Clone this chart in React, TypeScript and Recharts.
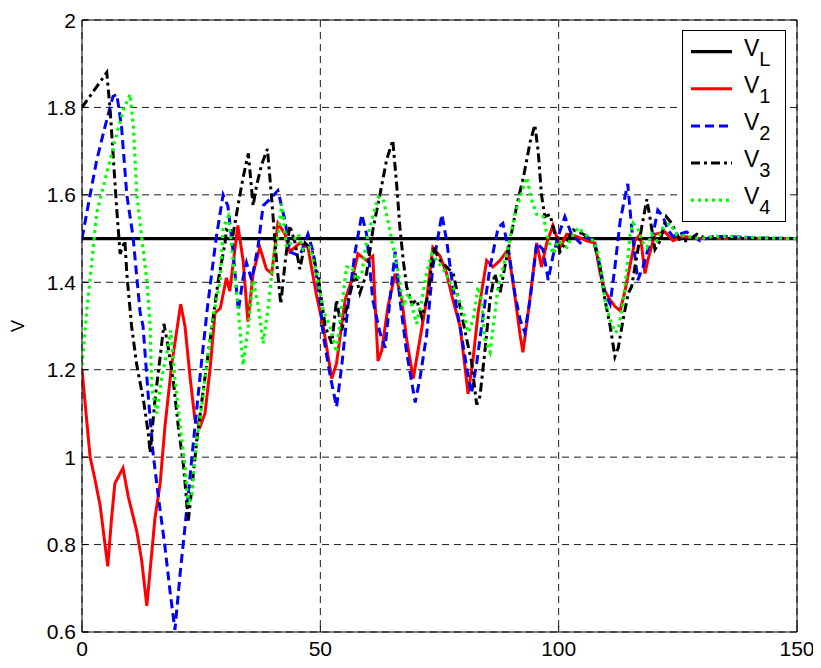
import React from 'react';
import { LineChart, Line, XAxis, YAxis, CartesianGrid } from 'recharts';

const xTicks = [0, 50, 100, 150];
const yTicks = [0.6, 0.8, 1, 1.2, 1.4, 1.6, 1.8, 2];

const vLX = [0, 150];
const vLY = [1.5, 1.5];

const v1X = [0, 1.7, 2.7, 3.8, 5.4, 6.2, 6.9, 8.6, 9.7, 11.5, 12.5, 13.6, 15.3, 16.4, 17.4, 18.8, 20.7, 21.6, 22.7, 23.7, 24.8, 25.8, 26.9, 27.9, 29, 30.3, 31, 32.7, 33.8, 34.8, 35.9, 37.3, 38.7, 39.8, 41.1, 42.6, 43.6, 45.7, 47.4, 49.2, 50.6, 52.4, 53.4, 55.2, 56.6, 57.9, 59.7, 61, 62.1, 62.9, 64.2, 65.7, 67.1, 68.1, 69.5, 70.9, 72.3, 73.6, 75.1, 76.5, 77.8, 79.3, 80.3, 81, 82, 83.1, 84.9, 86.2, 87.7, 89.4, 90.8, 91.9, 92.5, 93.6, 95.4, 96.4, 97.5, 98.8, 100.3, 101.7, 103.8, 105.9, 107.6, 108.7, 109.7, 110.8, 111.8, 112.9, 113.9, 115, 116, 117.1, 118.1, 118.7, 120.2, 122.3, 124, 126.1, 129, 150];
const v1Y = [1.2, 1.0, 0.95, 0.89, 0.75, 0.86, 0.94, 0.975, 0.91, 0.83, 0.765, 0.66, 0.86, 0.94, 1.07, 1.21, 1.35, 1.3, 1.18, 1.085, 1.07, 1.1, 1.205, 1.33, 1.34, 1.41, 1.38, 1.53, 1.45, 1.31, 1.42, 1.48, 1.43, 1.42, 1.535, 1.51, 1.47, 1.49, 1.48, 1.37, 1.3, 1.18, 1.215, 1.36, 1.405, 1.465, 1.45, 1.46, 1.22, 1.245, 1.345, 1.42, 1.36, 1.27, 1.18, 1.27, 1.36, 1.48, 1.46, 1.42, 1.36, 1.3, 1.21, 1.145, 1.22, 1.33, 1.45, 1.435, 1.45, 1.475, 1.37, 1.28, 1.24, 1.33, 1.49, 1.435, 1.49, 1.53, 1.48, 1.51, 1.505, 1.495, 1.49, 1.42, 1.38, 1.36, 1.345, 1.335, 1.38, 1.44, 1.495, 1.51, 1.42, 1.45, 1.51, 1.515, 1.495, 1.505, 1.5, 1.5];

const v2X = [0, 1.7, 3.1, 4.8, 6.5, 7.3, 8.3, 9.4, 10.7, 12.2, 12.8, 13.9, 14.9, 15.9, 17.4, 18.5, 19.5, 20.6, 21.6, 22.7, 23.7, 25.1, 26.4, 27.9, 28.2, 29.6, 30.6, 31.7, 32.8, 33.8, 34.5, 35.6, 36.9, 38, 39.4, 41.1, 42.6, 43.6, 45.7, 47.4, 48.5, 49.9, 50.6, 52, 53.4, 54.5, 55.8, 57.3, 58.7, 59.7, 61, 62.5, 63.6, 64.6, 65.7, 66.7, 68.1, 69.9, 70.9, 72.3, 73.6, 75.5, 76.5, 77.8, 79.6, 80.7, 81.7, 82.8, 84.1, 85.6, 87.3, 88.3, 89.4, 90.8, 91.9, 92.9, 94, 95.4, 96.7, 97.8, 98.8, 99.9, 101.3, 102.7, 104.5, 105.9, 107.6, 108.7, 109.7, 110.8, 111.8, 112.9, 113.9, 114.5, 115.3, 116, 116.6, 117.7, 118.7, 119.8, 120.8, 121.9, 122.9, 124, 126.8, 129.7, 132.4, 135.2, 140, 150];
const v2Y = [1.5, 1.6, 1.68, 1.755, 1.825, 1.83, 1.755, 1.6, 1.505, 1.33, 1.3, 1.14, 1.01, 0.92, 0.795, 0.69, 0.605, 0.735, 0.84, 0.96, 1.07, 1.22, 1.35, 1.48, 1.505, 1.6, 1.575, 1.47, 1.335, 1.41, 1.445, 1.405, 1.48, 1.575, 1.59, 1.61, 1.54, 1.47, 1.46, 1.51, 1.47, 1.36, 1.28, 1.19, 1.115, 1.21, 1.345, 1.47, 1.555, 1.51, 1.36, 1.285, 1.25, 1.36, 1.47, 1.36, 1.24, 1.125, 1.18, 1.28, 1.435, 1.555, 1.495, 1.39, 1.28, 1.205, 1.145, 1.215, 1.32, 1.435, 1.525, 1.535, 1.48, 1.375, 1.315, 1.285, 1.36, 1.49, 1.475, 1.405, 1.46, 1.505, 1.55, 1.51, 1.49, 1.505, 1.49, 1.435, 1.375, 1.35, 1.435, 1.54, 1.595, 1.625, 1.525, 1.46, 1.405, 1.435, 1.475, 1.51, 1.565, 1.55, 1.52, 1.505, 1.515, 1.495, 1.505, 1.505, 1.502, 1.5];

const v3X = [0, 5.2, 5.9, 6.6, 7.3, 8, 9, 9.4, 10.4, 11.5, 12.9, 13.9, 14.3, 15.3, 16.4, 17.2, 18.1, 19.2, 20.2, 21.3, 22.3, 23, 24.1, 25.4, 26.9, 28.6, 30, 30.3, 31.7, 32.8, 33.8, 34.9, 35.9, 36.6, 37.7, 38.9, 39.8, 40.8, 41.7, 42.6, 43.6, 44.7, 45.7, 46.8, 48.2, 49.6, 51, 52.4, 53.4, 54.5, 55.9, 57.3, 58.3, 59.7, 61.1, 62.5, 63.9, 65.2, 66, 66.7, 67.4, 68.1, 69.2, 70.2, 71.3, 72.7, 73.7, 75.1, 76.5, 77.9, 79.3, 80.7, 81.7, 82.8, 83.5, 84.5, 85.6, 86.6, 87.7, 88.7, 89.8, 91.2, 92.6, 94, 95, 95.7, 96.4, 97.1, 98.2, 99.2, 100.3, 101.7, 103.1, 105.2, 107.3, 108.7, 109.7, 110.8, 111.8, 112.5, 113.6, 114.6, 115.3, 116.4, 117.4, 118.5, 119.2, 120.2, 121.3, 122.6, 123.7, 125.5, 127.2, 129, 131, 150];
const v3Y = [1.8, 1.88, 1.795, 1.68, 1.565, 1.465, 1.495, 1.42, 1.3, 1.21, 1.13, 1.055, 1.01, 1.13, 1.23, 1.305, 1.25, 1.17, 1.07, 0.98, 0.855, 0.925, 1.04, 1.15, 1.27, 1.405, 1.49, 1.52, 1.51, 1.58, 1.64, 1.695, 1.575, 1.62, 1.67, 1.705, 1.59, 1.45, 1.35, 1.445, 1.53, 1.49, 1.43, 1.49, 1.475, 1.41, 1.3, 1.26, 1.36, 1.29, 1.36, 1.42, 1.375, 1.42, 1.525, 1.6, 1.68, 1.725, 1.625, 1.525, 1.45, 1.39, 1.35, 1.36, 1.32, 1.375, 1.48, 1.45, 1.435, 1.42, 1.345, 1.27, 1.22, 1.12, 1.14, 1.24, 1.36, 1.42, 1.375, 1.435, 1.495, 1.575, 1.64, 1.72, 1.76, 1.7, 1.6, 1.55, 1.555, 1.51, 1.47, 1.495, 1.52, 1.51, 1.495, 1.435, 1.36, 1.3, 1.23, 1.25, 1.32, 1.375, 1.39, 1.46, 1.525, 1.59, 1.545, 1.475, 1.495, 1.55, 1.535, 1.495, 1.495, 1.51, 1.5, 1.5];

const v4X = [0, 1, 2, 3.1, 4.5, 5.9, 7.3, 8.7, 10.1, 10.8, 11.5, 12.5, 13.6, 14.3, 14.6, 15.7, 16.7, 17.8, 18.6, 19.5, 20.6, 21.6, 22.3, 23, 24.1, 25.1, 26.2, 27.5, 29, 29.6, 30.7, 31.7, 32.8, 33.8, 34.9, 35.9, 37, 38, 39.1, 40.1, 41.2, 41.9, 42.9, 44.3, 45.4, 46.4, 47.8, 49.2, 50.6, 52, 53.4, 54.5, 55.5, 56.6, 57.6, 58.7, 59.7, 61.1, 62.2, 63.2, 64.3, 65.3, 66.4, 67.4, 68.5, 69.5, 70.2, 71.3, 72.3, 73.4, 74.4, 75.8, 77.2, 78.6, 80, 81, 82.1, 83.1, 83.8, 84.5, 85.6, 86.3, 87.3, 88.4, 89.4, 90.8, 92.2, 93.3, 94.3, 95.4, 96.8, 97.8, 98.9, 99.9, 101.7, 103.1, 104.1, 105.5, 107.3, 108.3, 109, 109.7, 110.8, 111.8, 112.5, 113.6, 114.3, 115, 115.6, 116.7, 117.4, 118.5, 119.5, 120.6, 121.9, 123.3, 124.8, 126.8, 129.7, 132.4, 136.6, 141.5, 150];
const v4Y = [1.21, 1.335, 1.44, 1.56, 1.62, 1.68, 1.74, 1.795, 1.83, 1.755, 1.6, 1.505, 1.405, 1.3, 1.16, 1.1, 1.18, 1.24, 1.29, 1.18, 1.07, 0.98, 0.89, 0.91, 1.04, 1.115, 1.21, 1.32, 1.405, 1.525, 1.55, 1.45, 1.335, 1.21, 1.3, 1.405, 1.345, 1.26, 1.345, 1.45, 1.51, 1.58, 1.48, 1.495, 1.51, 1.475, 1.48, 1.42, 1.335, 1.3, 1.24, 1.345, 1.435, 1.435, 1.405, 1.42, 1.495, 1.555, 1.595, 1.59, 1.535, 1.48, 1.42, 1.345, 1.375, 1.335, 1.305, 1.36, 1.42, 1.465, 1.45, 1.43, 1.4, 1.375, 1.33, 1.285, 1.315, 1.39, 1.36, 1.27, 1.24, 1.3, 1.39, 1.435, 1.48, 1.555, 1.605, 1.64, 1.59, 1.555, 1.55, 1.495, 1.465, 1.495, 1.48, 1.51, 1.525, 1.51, 1.495, 1.465, 1.42, 1.36, 1.315, 1.285, 1.29, 1.36, 1.43, 1.51, 1.535, 1.52, 1.495, 1.48, 1.51, 1.495, 1.525, 1.535, 1.51, 1.505, 1.5, 1.505, 1.505, 1.502, 1.5];

const toData = (xs: number[], ys: number[]) => xs.map((x, i) => ({ x, y: ys[i] }));

const seriesNames = ['L', '1', '2', '3', '4'];
const seriesColors = ['#000000', '#ff0000', '#0000ff', '#000000', '#00ff00'];
const seriesDash = ['', '', '9 5', '9 4 3 4', '3 4'];
const seriesWidth = [3.2, 3, 3, 3, 3.2];
const seriesData = [
  toData(vLX, vLY),
  toData(v1X, v1Y),
  toData(v2X, v2Y),
  toData(v3X, v3Y),
  toData(v4X, v4Y),
];

const FONT = '"Liberation Sans", Arial, Helvetica, sans-serif';

const LegendBox = () => (
  <svg width={104} height={192} style={{ display: 'block' }}>
    <rect x={0.5} y={0.5} width={103} height={191} fill="#fff" stroke="#000" strokeWidth={1} />
    {seriesNames.map((n, i) => {
      const y = 21.7 + i * 37.1;
      return (
        <g key={n}>
          <line x1={9} x2={50} y1={y} y2={y} stroke={seriesColors[i]} strokeWidth={seriesWidth[i]} strokeDasharray={seriesDash[i] || undefined} />
          <text x={62} y={y + 4} fontFamily={FONT} fontSize={23} fill="#000">
            V<tspan fontSize={20} dy={10}>{n}</tspan>
          </text>
        </g>
      );
    })}
  </svg>
);

export default function App() {
  return (
    <div style={{ width: 813, height: 660, position: 'relative' }}>
      <LineChart width={813} height={660} margin={{ top: 0, right: 0, bottom: 0, left: 0 }}>
        <CartesianGrid stroke="#000" strokeWidth={0.9} strokeDasharray="7 5" />
        <XAxis
          dataKey="x"
          type="number"
          domain={[0, 150]}
          ticks={xTicks}
          allowDataOverflow
          height={36}
          axisLine={{ stroke: '#000', strokeWidth: 1 }}
          tickLine={{ stroke: '#000' }}
          tickSize={-6}
          tickMargin={15}
          tick={{ fill: '#000', fontSize: 21, fontFamily: FONT }}
        />
        <XAxis
          xAxisId="top"
          orientation="top"
          type="number"
          domain={[0, 150]}
          ticks={xTicks}
          height={12}
          axisLine={{ stroke: '#000', strokeWidth: 1 }}
          tickLine={{ stroke: '#000' }}
          tickSize={-6}
          tick={false}
        />
        <YAxis
          type="number"
          domain={[0.6, 2]}
          ticks={yTicks}
          allowDataOverflow
          width={74}
          axisLine={{ stroke: '#000', strokeWidth: 1 }}
          tickLine={{ stroke: '#000' }}
          tickSize={-6}
          tickMargin={12}
          tick={{ fill: '#000', fontSize: 21, fontFamily: FONT }}
          label={{ value: 'V', angle: -90, position: 'insideLeft', offset: 10, style: { fill: '#000', fontSize: 18, fontFamily: FONT, textAnchor: 'middle' } }}
        />
        <YAxis
          yAxisId="right"
          orientation="right"
          type="number"
          domain={[0.6, 2]}
          ticks={yTicks}
          width={24}
          axisLine={{ stroke: '#000', strokeWidth: 1 }}
          tickLine={{ stroke: '#000' }}
          tickSize={-6}
          tick={false}
        />
        {seriesData.map((d, i) => (
          <Line
            key={seriesNames[i]}
            data={d}
            dataKey="y"
            type="linear"
            stroke={seriesColors[i]}
            strokeWidth={seriesWidth[i]}
            strokeDasharray={seriesDash[i] || undefined}
            dot={false}
            activeDot={false}
            isAnimationActive={false}
          />
        ))}
      </LineChart>
      <div style={{ position: 'absolute', left: 674, top: 22, width: 104, height: 192 }}>
        <LegendBox />
      </div>
    </div>
  );
}
